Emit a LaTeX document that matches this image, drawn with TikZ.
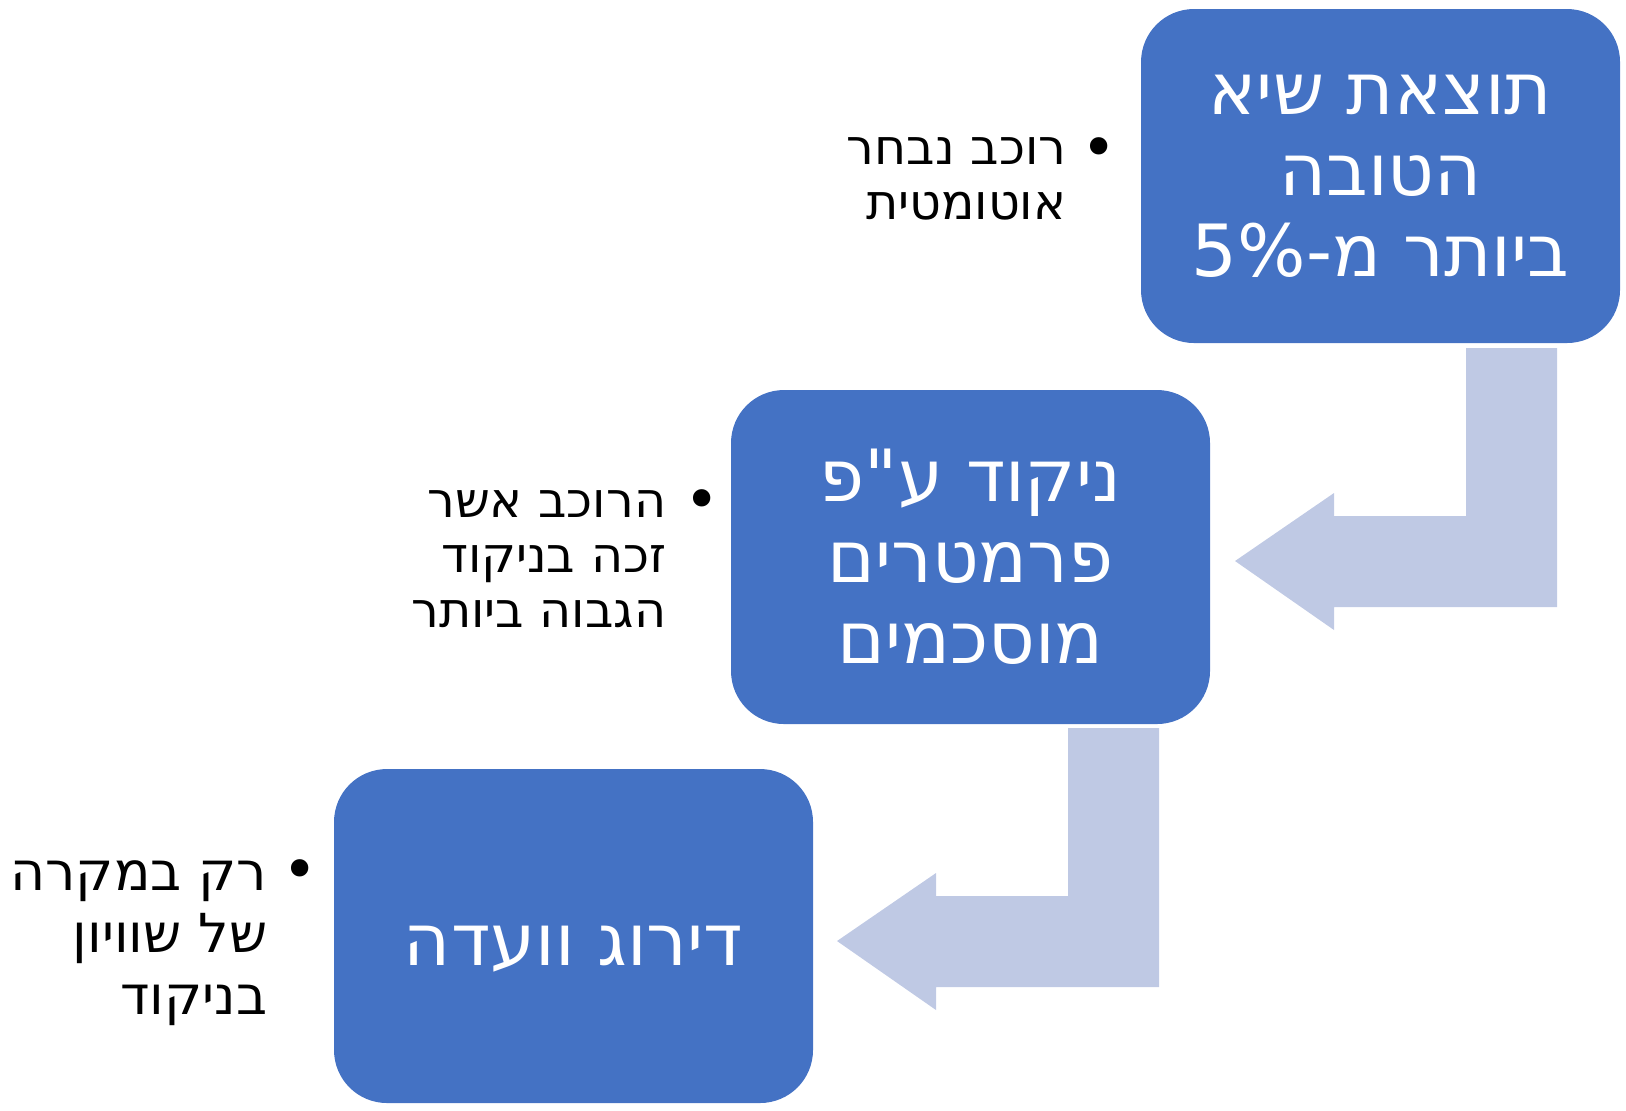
\documentclass[tikz,border=0pt]{standalone}
\usepackage{fontspec}
\setmainfont{DejaVu Sans}
\newfontfamily\hebfont[Script=Hebrew]{DejaVu Sans}
\TeXXeTstate=1
\usepackage{tikz}
\usetikzlibrary{positioning}
\usepackage{xcolor}

\definecolor{boxblue}{RGB}{68,114,196}
\definecolor{bentblue}{RGB}{191,201,228}

\tikzset{
    stagebox/.style={fill=boxblue, rounded corners=0.53cm, minimum width=4.79cm, minimum height=3.34cm,
        text=white, align=center, inner sep=0pt, font=\hebfont\fontsize{20.5}{23}\selectfont},
    notetext/.style={align=right, inner sep=0pt, anchor=north east},
    notedot/.style={inner sep=0pt, font=\hebfont\fontsize{17}{17}\selectfont},
    bentarrow/.style={fill=bentblue}
}

\begin{document}
\begin{tikzpicture}
            \useasboundingbox (0,0) rectangle (16.26,-11.10);

            \node[stagebox] (best) at (13.805,-1.76) {\beginR תוצאת שיא\endR\\ \beginR הטובה\endR\\ \beginR ביותר מ-\beginL 5\%\endL\endR};
            \node[stagebox] (score) at (9.705,-5.57) {\beginR ניקוד ע"פ\endR\\ \beginR פרמטרים\endR\\ \beginR מוסכמים\endR};
            \node[stagebox, text height=0.68cm, text depth=0.1cm] (jury) at (5.735,-9.36) {\beginR דירוג וועדה\endR};

            \node[notetext, font=\hebfont\fontsize{14}{15.6}\selectfont] (bestnote) at (10.67,-1.37) {\beginR רוכב נבחר\endR\\ \beginR אוטומטית\endR};
            \node[notedot] (bestdot) at (10.99,-1.53) {•};
            \node[notetext, font=\hebfont\fontsize{14}{15.6}\selectfont] (scorenote) at (6.67,-4.90) {\beginR הרוכב אשר\endR\\ \beginR זכה בניקוד\endR\\ \beginR הגבוה ביותר\endR};
            \node[notedot] (scoredot) at (7.02,-5.05) {•};
            \node[notetext, font=\hebfont\fontsize{15.3}{17.6}\selectfont] (jurynote) at (2.68,-8.60) {\beginR רק במקרה\endR\\ \beginR של שוויון\endR\\ \beginR בניקוד\endR};
            \node[notedot] (jurydot) at (3.00,-8.75) {•};

            \coordinate (bend1) at (15.57,-3.48);
            \coordinate (bend2) at (11.59,-7.28);

            \fill[bentarrow] (bend1) -- ++(0,-2.59) -- ++(-2.23,0) -- ++(0,-0.23) -- ++(-0.99,0.69)
                -- ++(0.99,0.68) -- ++(0,-0.23) -- ++(1.32,0) -- ++(0,1.68) -- cycle;
            \fill[bentarrow] (bend2) -- ++(0,-2.59) -- ++(-2.23,0) -- ++(0,-0.23) -- ++(-0.99,0.69)
                -- ++(0.99,0.68) -- ++(0,-0.23) -- ++(1.32,0) -- ++(0,1.68) -- cycle;
        \end{tikzpicture}
\end{document}
